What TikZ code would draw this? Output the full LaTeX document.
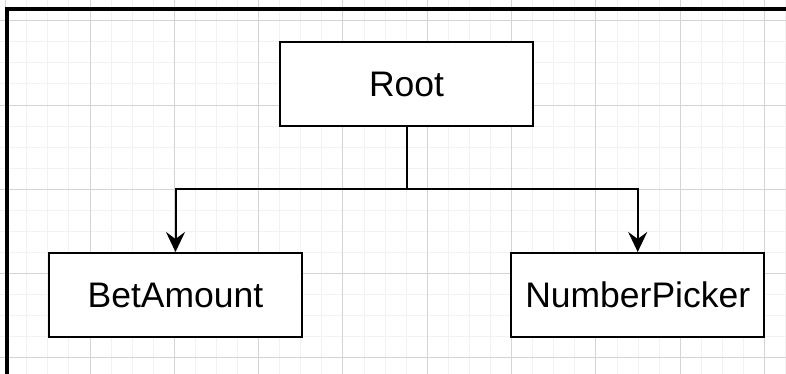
\documentclass[tikz,border=0pt]{standalone}
\usepackage{fontspec}
\setmainfont{Liberation Sans}
\usetikzlibrary{arrows.meta}
\begin{document}
\begin{tikzpicture}[x=1pt,y=-1pt,
  box/.style={draw=black, line width=2pt, fill=white, minimum width=253pt, minimum height=84pt, inner sep=0pt, font=\fontsize{35.5}{42}\selectfont},
  conn/.style={line width=2pt, -{Stealth[length=20pt,width=19pt,inset=7pt]}},
  minorgrid/.style={draw=black!5, line width=1pt},
  majorgrid/.style={draw=black!17, line width=1pt},
  frame/.style={line width=3.4pt}]
\useasboundingbox (0,0) rectangle (786,374);
\fill[white] (0,0) rectangle (786,374);
\foreach \i in {0,...,37} {\draw[minorgrid] ({5.7+21.08*\i},0) -- ({5.7+21.08*\i},374);}
\foreach \j in {0,...,17} {\draw[minorgrid] (0,{20.7+21.08*\j}) -- (786,{20.7+21.08*\j});}
\foreach \i in {0,...,9} {\draw[majorgrid] ({5.7+84.32*\i},0) -- ({5.7+84.32*\i},374);}
\foreach \j in {0,...,4} {\draw[majorgrid] (0,{20.7+84.32*\j}) -- (786,{20.7+84.32*\j});}
\draw[frame] (7,374) -- (7,9) -- (786,9);
\node[box] (root) at (406.5,84.5) {Root};
\node[box] (bet) at (175.5,295) {BetAmount};
\node[box] (num) at (637.7,295) {NumberPicker};
\coordinate (j) at (406.5,189.3);
\draw[conn] (root.south) -- (j) -| (bet.north);
\draw[conn] (root.south) -- (j) -| (num.north);
\end{tikzpicture}
\end{document}
